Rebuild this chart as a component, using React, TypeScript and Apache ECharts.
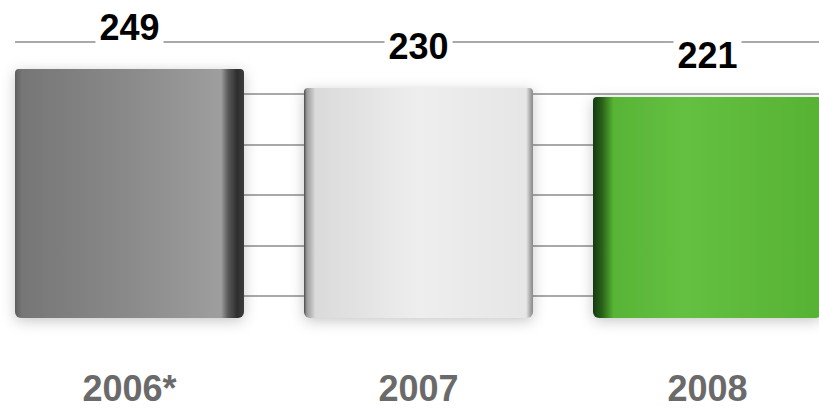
import React, { useEffect, useRef } from 'react';
import * as echarts from 'echarts';

const categories = ['2006*', '2007', '2008'];
const values = [249, 230, 221];
const gridValues = [22, 72, 123, 173, 224, 276];

const barGradients = [
  [
    [0, '#5e5e5e'], [0.03, '#767676'], [0.5, '#8a8a8a'], [0.9, '#9e9e9e'],
    [0.93, '#5a5a5a'], [0.97, '#2e2e2e'], [1, '#3c3c3c'],
  ],
  [
    [0, '#4a4a4a'], [0.012, '#9a9a9a'], [0.05, '#dadada'], [0.5, '#eeeeee'],
    [0.97, '#e6e6e6'], [0.988, '#a8a8a8'], [1, '#8a8a8a'],
  ],
  [
    [0, '#163810'], [0.04, '#2a6219'], [0.09, '#58b436'], [0.4, '#64c040'],
    [1, '#57b234'],
  ],
];

export default function App() {
  const ref = useRef<HTMLDivElement>(null);
  useEffect(() => {
    document.body.style.margin = '0';
    const chart = echarts.init(ref.current!, null, { renderer: 'svg' });
    const data = values.map((v, i) => ({
      value: v,
      itemStyle: {
        color: new echarts.graphic.LinearGradient(
          0, 0, 1, 0,
          barGradients[i].map(([o, c]) => ({ offset: o as number, color: c as string }))
        ),
      },
    }));
    chart.setOption({
      animation: false,
      backgroundColor: '#ffffff',
      grid: { left: 0, right: 0, top: 18, bottom: 91, containLabel: false },
      graphic: [
        {
          type: 'rect',
          z: 2,
          silent: true,
          shape: { x: 0, y: 0, width: 30, height: 318 },
          style: { fill: '#ffffff' },
        },
      ],
      xAxis: {
        type: 'category',
        data: categories,
        axisLine: { show: false },
        axisTick: { show: false },
        splitLine: { show: false },
        axisLabel: {
          margin: 55,
          lineHeight: 30,
          color: '#6a6a6a',
          fontSize: 36,
          fontWeight: 'bold',
          fontFamily: 'Liberation Sans, Arial, sans-serif',
        },
      },
      yAxis: {
        type: 'value',
        min: 0,
        max: 300,
        show: false,
        splitLine: { show: false },
      },
      series: [
        {
          type: 'line',
          data: ['-', '-', '-'],
          z: 1,
          silent: true,
          symbol: 'none',
          markLine: {
            z: 1,
            silent: true,
            symbol: ['none', 'none'],
            label: { show: false },
            lineStyle: { color: '#8c8c8c', width: 1.5, type: 'solid' },
            data: gridValues.map((g) => ({ yAxis: g })),
          },
        },
        {
          type: 'bar',
          z: 3,
          barWidth: 229,
          data,
          itemStyle: {
            borderRadius: [4, 4, 6, 6],
            shadowColor: 'rgba(0,0,0,0.22)',
            shadowBlur: 14,
            shadowOffsetY: 3,
          },
          label: {
            show: true,
            position: 'top',
            distance: 24,
            color: '#000000',
            fontSize: 36,
            fontWeight: 'bold',
            fontFamily: 'Liberation Sans, Arial, sans-serif',
            backgroundColor: '#ffffff',
            padding: [0, 4],
          },
        },
      ],
    });
    return () => chart.dispose();
  }, []);
  return (
    <div style={{ width: 819, height: 409, overflow: 'hidden', position: 'relative' }}>
      <div ref={ref} style={{ position: 'absolute', left: -15, top: 0, width: 867, height: 409 }} />
    </div>
  );
}
